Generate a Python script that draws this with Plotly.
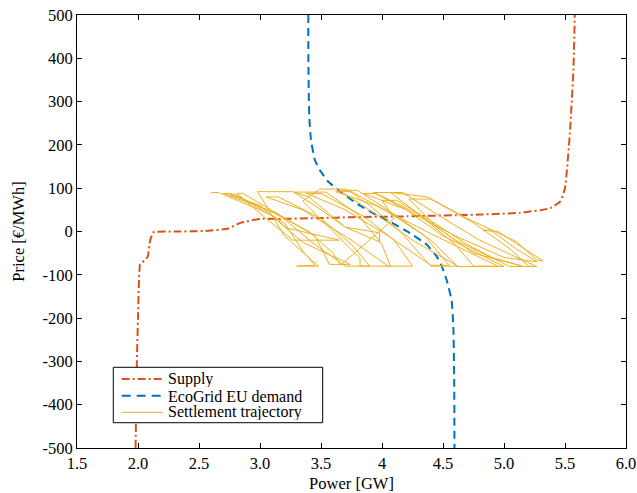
import plotly.graph_objects as go

# Supply curve: price vs power
supply_gw = [1.98, 1.99, 2.00, 2.016, 2.03, 2.08, 2.10, 2.125, 2.30, 2.535, 2.74,
             2.84, 3.00, 3.14, 3.50, 3.74, 4.20, 4.64, 4.80, 5.13, 5.21, 5.30,
             5.38, 5.46, 5.50, 5.54, 5.57, 5.58]
supply_price = [-500, -312, -197, -77, -73, -58, -20, -2, 0, 1, 7,
                20, 29, 29, 31, 33, 35, 38, 39, 43, 46, 49,
                54, 69, 100, 227, 380, 500]

# EcoGrid EU aggregated demand curve
demand_gw = [3.396, 3.397, 3.404, 3.418, 3.45, 3.49, 3.56, 3.67, 3.79, 3.93,
             4.09, 4.23, 4.37, 4.45, 4.49, 4.53, 4.57, 4.585, 4.592, 4.594]
demand_price = [500, 380, 265, 211, 165, 142, 115, 90, 65, 42,
                19, -4, -31, -58, -80, -112, -158, -220, -350, -500]

# Settlement trajectory of the real-time market
traj_gw = [2.60, 2.66, 3.10, 3.22, 3.65,
           3.27, 3.05, 2.81, 2.86, 3.15, 3.45, 3.57, 3.74,
           3.35, 3.00, 2.75, 2.80, 3.20, 3.35, 3.45, 3.30,
           3.48, 3.20, 2.98, 3.27, 3.45, 3.70, 3.98, 3.98,
           3.70, 3.40, 3.28, 3.54, 3.80, 4.00, 4.07, 3.82, 3.82,
           3.60, 3.35, 3.49, 3.71, 3.90, 4.15, 4.40, 4.62,
           4.25, 3.95, 3.65, 3.80, 4.10, 4.40, 4.62, 5.00,
           4.50, 4.20, 3.93, 4.17, 4.45, 4.80, 5.27, 5.05,
           4.60, 4.30, 4.07, 4.37, 4.70, 5.10, 5.27, 5.32,
           4.95, 4.83, 4.89, 5.10, 5.27,
           5.00, 4.60, 4.20, 3.85, 3.95, 4.30, 4.60, 4.75, 4.95,
           4.40, 3.95, 3.62, 3.75, 4.05, 4.35, 4.50, 4.55, 4.40,
           4.05, 3.70, 3.38, 3.50, 3.85, 4.10, 4.25, 4.05,
           3.75, 3.35, 3.05, 3.15, 3.50, 3.75, 3.90, 3.70,
           3.45, 3.15, 2.70, 2.76, 3.10, 3.40, 3.60, 3.66,
           3.90, 4.10, 4.00, 4.12, 4.40, 4.70, 4.90, 5.15,
           4.75, 4.45, 4.22, 4.40, 4.75, 5.05, 5.20, 5.22]
traj_price = [90, 90, 38, 8, -20,
              -20, 30, 88, 88, 40, -10, -76, -76,
              -25, 60, 85, 85, 20, -45, -78, -80,
              -80, -10, 92, 92, 60, 10, -3, -24,
              10, 80, 91, 91, 40, -30, -80, -80, -62,
              0, 70, 98, 98, 60, 0, -80, -80,
              -20, 40, 95, 95, 40, -20, -81, -81,
              -10, 50, 90, 90, 40, -20, -81, -81,
              -20, 40, 90, 80, 30, -23, -66, -68,
              0, 3, 3, -40, -70,
              -60, -10, 50, 88, 88, 40, -30, -80, -80,
              -5, 60, 92, 92, 45, -10, -60, -78, -78,
              -10, 50, 88, 88, 35, -20, -80, -80,
              -20, 50, 80, 80, 30, -30, -80, -80,
              -30, 40, 88, 88, 45, 0, -50, -78,
              -20, 30, 72, 72, 25, -30, -60, -80,
              -50, 10, 75, 75, 20, -40, -80, -80]

x_ticks = [1.5, 2.0, 2.5, 3.0, 3.5, 4.0, 4.5, 5.0, 5.5, 6.0]
x_tick_text = ["1.5", "2.0", "2.5", "3.0", "3.5", "4", "4.5", "5.0", "5.5", "6.0"]
y_ticks = [-500, -400, -300, -200, -100, 0, 100, 200, 300, 400, 500]
y_tick_text = ["-500", "-400", "-300", "-200", "-100", "0", "100", "200", "300", "400", "500"]

legend_names = ["Supply", "EcoGrid EU demand", "Settlement trajectory"]
legend_colors = ["#D95319", "#0072BD", "#EDB120"]
legend_dashes = ["8px,3px,2px,3px", "9px,6px", "solid"]
legend_widths = [2, 2, 1]

FONT = "Liberation Serif, Times New Roman, serif"
FS = 16.5

fig = go.Figure()
fig.add_trace(go.Scatter(
    x=supply_gw, y=supply_price, mode="lines", name=legend_names[0], showlegend=False,
    line=dict(color=legend_colors[0], width=legend_widths[0], dash=legend_dashes[0],
              shape="spline", smoothing=0.4),
))
fig.add_trace(go.Scatter(
    x=demand_gw, y=demand_price, mode="lines", name=legend_names[1], showlegend=False,
    line=dict(color=legend_colors[1], width=legend_widths[1], dash="8px,5px",
              shape="spline", smoothing=0.4),
))
fig.add_trace(go.Scatter(
    x=traj_gw, y=traj_price, mode="lines", name=legend_names[2], showlegend=False,
    line=dict(color=legend_colors[2], width=legend_widths[2]),
))

# Boxed legend in the lower-left corner of the axes
box = dict(x0=0.0661, x1=0.4475, y0=0.0584, y1=0.1864)
row_y = [0.1594, 0.1208, 0.0824]
shapes = [dict(type="rect", xref="paper", yref="paper", layer="above",
               fillcolor="white", line=dict(color="black", width=1), **box)]
annotations = []
for name, color, dash, w, yy in zip(legend_names, legend_colors, legend_dashes,
                                    legend_widths, row_y):
    shapes.append(dict(type="line", xref="paper", yref="paper", layer="above",
                       x0=0.0814, x1=0.1561, y0=yy, y1=yy,
                       line=dict(color=color, width=w, dash=dash)))
    annotations.append(dict(text=name, xref="paper", yref="paper", x=0.1634, y=yy,
                            xanchor="left", yanchor="middle", showarrow=False,
                            height=16, borderpad=0, valign="middle",
                            font=dict(family=FONT, size=16, color="black")))

axis_common = dict(
    showline=True, linecolor="black", linewidth=1, mirror="ticks",
    ticks="inside", ticklen=5, tickcolor="black", tickwidth=1,
    showgrid=False, zeroline=False, automargin=False,
    tickfont=dict(family=FONT, size=FS, color="black"),
)

fig.update_layout(
    template="none",
    width=637, height=493,
    margin=dict(l=77, r=11, t=15, b=45),
    paper_bgcolor="white", plot_bgcolor="white",
    font=dict(family=FONT, size=FS, color="black"),
    xaxis=dict(range=[1.5, 6.0], tickvals=x_ticks, ticktext=x_tick_text,
               title=dict(text="Power [GW]", standoff=6, font=dict(family=FONT, size=FS)),
               **axis_common),
    yaxis=dict(range=[-500, 500], tickvals=y_ticks, ticktext=y_tick_text,
               title=dict(text="Price [€/MWh]", standoff=13, font=dict(family=FONT, size=FS)),
               **axis_common),
    showlegend=False,
    shapes=shapes,
    annotations=annotations,
)

fig.write_html("out.html")
